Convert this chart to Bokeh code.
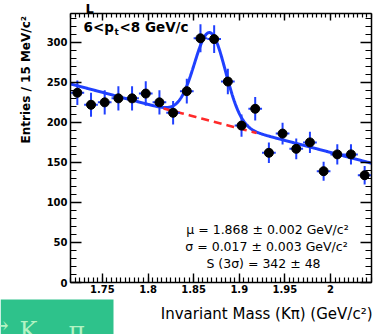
import numpy as np
from bokeh.plotting import figure
from bokeh.models import (Range1d, LinearAxis, Label, BoxAnnotation,
                          ColumnDataSource, CustomJSTickFormatter, SingleIntervalTicker)
from bokeh.embed import file_html
from bokeh.resources import INLINE

# ---------------- data ----------------
mass = [1.7225, 1.7375, 1.7525, 1.7675, 1.7825, 1.7975, 1.8125, 1.8275,
        1.8425, 1.8575, 1.8725, 1.8875, 1.9025, 1.9175, 1.9325, 1.9475,
        1.9625, 1.9775, 1.9925, 2.0075, 2.0225, 2.0375]
entries = [237, 222, 225, 230, 230, 236, 225, 212,
           239, 305, 304, 251, 196, 217, 162, 186,
           167, 175, 139, 160, 160, 134]
bin_width = 0.015

# fit parameters (Gaussian + linear background)
fit_mu = 1.868
fit_sigma = 0.017
fit_amp = 110.0
bkg_x = [1.715, 2.045]
bkg_y = [248.0, 149.0]

x_min, x_max = 1.715, 2.045
y_min, y_max = 0, 336

# ---------------- layout geometry (pixels) ----------------
W, H = 382, 334
box_l, box_r, box_t, box_b = 70, 371, 13, 282   # plot box inside the canvas

sx = (x_max - x_min) / (box_r - box_l)
sy = (y_max - y_min) / (box_b - box_t)
xr = Range1d(x_min - box_l * sx, x_max + (W - box_r) * sx)
yr = Range1d(y_min - (H - box_b) * sy, y_max + box_t * sy)

# ---------------- derived ----------------
err = np.sqrt(np.array(entries, dtype=float))
src = ColumnDataSource(dict(
    x=mass, y=entries,
    y0=np.array(entries) - err, y1=np.array(entries) + err,
    x0=np.array(mass) - bin_width / 2, x1=np.array(mass) + bin_width / 2,
))

def bkg(x):
    return bkg_y[0] + (bkg_y[1] - bkg_y[0]) * (x - bkg_x[0]) / (bkg_x[1] - bkg_x[0])

xf = np.linspace(x_min, x_max, 600)
yf = bkg(xf) + fit_amp * np.exp(-0.5 * ((xf - fit_mu) / fit_sigma) ** 2)
xb = np.linspace(fit_mu - 3 * fit_sigma, fit_mu + 3 * fit_sigma, 50)
yb = bkg(xb)

# ---------------- figure ----------------
p = figure(width=W, height=H, x_range=xr, y_range=yr, output_backend="svg",
           toolbar_location=None, min_border=0,
           min_border_left=0, min_border_right=0,
           min_border_top=0, min_border_bottom=0)
p.title.visible = False
p.xgrid.visible = False
p.ygrid.visible = False
p.outline_line_color = None
p.background_fill_color = "white"
p.border_fill_color = "white"

FONT = "DejaVu Sans"

def style_axis(ax, major, minor, labels=True):
    ax.axis_line_color = "black"
    ax.axis_line_width = 1.5
    ax.major_tick_in = major
    ax.major_tick_out = 0
    ax.minor_tick_in = minor
    ax.minor_tick_out = 0
    ax.major_tick_line_color = "black"
    ax.major_tick_line_width = 1.4
    ax.minor_tick_line_color = "black"
    ax.minor_tick_line_width = 1.2
    if labels:
        ax.major_label_text_font = FONT
        ax.major_label_text_font_style = "bold"
        ax.major_label_text_font_size = "10px"
        ax.major_label_text_color = "black"
    else:
        ax.major_label_text_font_size = "0px"
        ax.major_label_standoff = 0

fmt = CustomJSTickFormatter(code="return tick.toFixed(2).replace(/0+$/,'').replace(/\\.$/,'');")

xax = p.xaxis[0]
xax.ticker = SingleIntervalTicker(interval=0.05, num_minor_ticks=10)
xax.formatter = fmt
xax.major_label_standoff = 2
xax.fixed_location = y_min
xax.bounds = (x_min, x_max)
style_axis(xax, 9, 5)

yax = p.yaxis[0]
yax.ticker = SingleIntervalTicker(interval=50, num_minor_ticks=5)
yax.major_label_standoff = 3
yax.fixed_location = x_min
yax.bounds = (y_min, y_max)
style_axis(yax, 11, 6)

top_ax = LinearAxis(ticker=SingleIntervalTicker(interval=0.05, num_minor_ticks=10),
                    fixed_location=y_max, bounds=(x_min, x_max))
style_axis(top_ax, 7, 4, labels=False)
p.add_layout(top_ax, "above")
right_ax = LinearAxis(ticker=SingleIntervalTicker(interval=50, num_minor_ticks=5),
                      fixed_location=x_max, bounds=(y_min, y_max))
style_axis(right_ax, 11, 6, labels=False)
p.add_layout(right_ax, "right")

BLUE = "#2040ff"
RED = "#ff2a2a"

# fit curve and background
p.line(xf, yf, line_color=BLUE, line_width=3)
p.line(xb, yb, line_color=RED, line_width=2.5, line_dash="8 5")

# data points
p.segment(x0="x", y0="y0", x1="x", y1="y1", source=src, line_color=BLUE, line_width=2)
p.segment(x0="x0", y0="y", x1="x1", y1="y", source=src, line_color=BLUE, line_width=2)
p.scatter(x="x", y="y", source=src, size=9, color="black")

# ---------------- texts (canvas pixels, y from top) ----------------
def lab(text, x, y, size, style="normal", align="left", baseline="middle",
        angle=0, color="black", font=FONT):
    p.add_layout(Label(x=x, y=H - y, x_units="screen", y_units="screen", text=text,
                       text_font=font, text_font_size=size, text_font_style=style,
                       text_align=align, text_baseline=baseline, angle=angle,
                       text_color=color))

# slide decoration box at bottom left
p.add_layout(BoxAnnotation(left=0, right=113, top=H - 299, bottom=-10,
                           left_units="screen", right_units="screen",
                           top_units="screen", bottom_units="screen",
                           fill_color="#2ec28b", fill_alpha=1.0, line_color=None))
lab("\u2192", -11, 324, "23px", color="#b3f3c3", font="DejaVu Serif")
lab("K", 19, 330, "24px", baseline="alphabetic", color="#b3f3c3", font="DejaVu Serif")
lab("\u03c0", 68, 330, "25px", baseline="alphabetic", color="#b3f3c3", font="DejaVu Serif")

lab("6<p", 83, 26, "13.5px", "bold")
lab("t", 114, 31, "9px", "bold")
lab("<8 GeV/c", 119, 26, "13.5px", "bold")

lab("\u03bc = 1.868 \u00b1 0.002 GeV/c\u00b2", 267, 229, "12.5px", align="center")
lab("\u03c3 = 0.017 \u00b1 0.003 GeV/c\u00b2", 266, 246, "12.5px", align="center")
lab("S (3\u03c3) = 342 \u00b1 48", 263, 263, "12.5px", align="center")

lab("Entries / 15 MeV/c\u00b2", 25, 143, "12px", "bold", angle=np.pi / 2)
lab("Invariant Mass (K\u03c0) (GeV/c\u00b2)", 372, 313, "15px", align="right")

lab("L", 85, 8, "13px", "bold", baseline="alphabetic")

open("out.html", "w").write(file_html(p, INLINE))
